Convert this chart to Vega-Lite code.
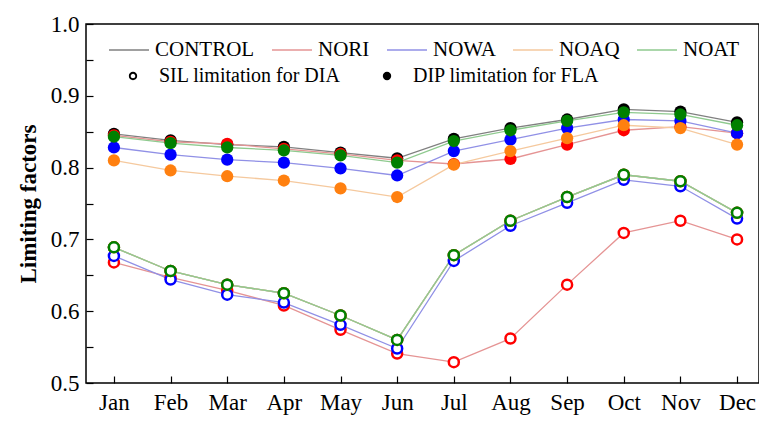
{
  "$schema": "https://vega.github.io/schema/vega-lite/v6.json",
  "autosize": "none",
  "width": 673,
  "height": 359,
  "padding": {"left": 86, "top": 24, "right": 0, "bottom": 38},
  "background": "white",
  "config": {
    "font": "Liberation Serif",
    "view": {"stroke": "black", "strokeWidth": 1.5},
    "axis": {"grid": false, "domain": false, "labelFont": "Liberation Serif", "labelFontSize": 23, "labelColor": "black", "tickColor": "black", "tickWidth": 1.2, "titleFont": "Liberation Serif"},
    "legend": {"labelFont": "Liberation Serif", "labelColor": "black"}
  },
  "data": {"values": [
    {"m":"Jan","s":"CONTROL","t":"DIP limitation for FLA","v":0.847},
    {"m":"Feb","s":"CONTROL","t":"DIP limitation for FLA","v":0.838},
    {"m":"Mar","s":"CONTROL","t":"DIP limitation for FLA","v":0.832},
    {"m":"Apr","s":"CONTROL","t":"DIP limitation for FLA","v":0.829},
    {"m":"May","s":"CONTROL","t":"DIP limitation for FLA","v":0.821},
    {"m":"Jun","s":"CONTROL","t":"DIP limitation for FLA","v":0.813},
    {"m":"Jul","s":"CONTROL","t":"DIP limitation for FLA","v":0.840},
    {"m":"Aug","s":"CONTROL","t":"DIP limitation for FLA","v":0.855},
    {"m":"Sep","s":"CONTROL","t":"DIP limitation for FLA","v":0.867},
    {"m":"Oct","s":"CONTROL","t":"DIP limitation for FLA","v":0.881},
    {"m":"Nov","s":"CONTROL","t":"DIP limitation for FLA","v":0.878},
    {"m":"Dec","s":"CONTROL","t":"DIP limitation for FLA","v":0.863},
    {"m":"Jan","s":"CONTROL","t":"SIL limitation for DIA","v":0.689},
    {"m":"Feb","s":"CONTROL","t":"SIL limitation for DIA","v":0.656},
    {"m":"Mar","s":"CONTROL","t":"SIL limitation for DIA","v":0.637},
    {"m":"Apr","s":"CONTROL","t":"SIL limitation for DIA","v":0.625},
    {"m":"May","s":"CONTROL","t":"SIL limitation for DIA","v":0.594},
    {"m":"Jun","s":"CONTROL","t":"SIL limitation for DIA","v":0.560},
    {"m":"Jul","s":"CONTROL","t":"SIL limitation for DIA","v":0.678},
    {"m":"Aug","s":"CONTROL","t":"SIL limitation for DIA","v":0.726},
    {"m":"Sep","s":"CONTROL","t":"SIL limitation for DIA","v":0.759},
    {"m":"Oct","s":"CONTROL","t":"SIL limitation for DIA","v":0.790},
    {"m":"Nov","s":"CONTROL","t":"SIL limitation for DIA","v":0.781},
    {"m":"Dec","s":"CONTROL","t":"SIL limitation for DIA","v":0.737},
    {"m":"Jan","s":"NORI","t":"DIP limitation for FLA","v":0.845},
    {"m":"Feb","s":"NORI","t":"DIP limitation for FLA","v":0.836},
    {"m":"Mar","s":"NORI","t":"DIP limitation for FLA","v":0.833},
    {"m":"Apr","s":"NORI","t":"DIP limitation for FLA","v":0.826},
    {"m":"May","s":"NORI","t":"DIP limitation for FLA","v":0.819},
    {"m":"Jun","s":"NORI","t":"DIP limitation for FLA","v":0.810},
    {"m":"Jul","s":"NORI","t":"DIP limitation for FLA","v":0.805},
    {"m":"Aug","s":"NORI","t":"DIP limitation for FLA","v":0.812},
    {"m":"Sep","s":"NORI","t":"DIP limitation for FLA","v":0.832},
    {"m":"Oct","s":"NORI","t":"DIP limitation for FLA","v":0.852},
    {"m":"Nov","s":"NORI","t":"DIP limitation for FLA","v":0.857},
    {"m":"Dec","s":"NORI","t":"DIP limitation for FLA","v":0.848},
    {"m":"Jan","s":"NORI","t":"SIL limitation for DIA","v":0.668},
    {"m":"Feb","s":"NORI","t":"SIL limitation for DIA","v":0.647},
    {"m":"Mar","s":"NORI","t":"SIL limitation for DIA","v":0.629},
    {"m":"Apr","s":"NORI","t":"SIL limitation for DIA","v":0.608},
    {"m":"May","s":"NORI","t":"SIL limitation for DIA","v":0.574},
    {"m":"Jun","s":"NORI","t":"SIL limitation for DIA","v":0.541},
    {"m":"Jul","s":"NORI","t":"SIL limitation for DIA","v":0.529},
    {"m":"Aug","s":"NORI","t":"SIL limitation for DIA","v":0.562},
    {"m":"Sep","s":"NORI","t":"SIL limitation for DIA","v":0.637},
    {"m":"Oct","s":"NORI","t":"SIL limitation for DIA","v":0.709},
    {"m":"Nov","s":"NORI","t":"SIL limitation for DIA","v":0.726},
    {"m":"Dec","s":"NORI","t":"SIL limitation for DIA","v":0.700},
    {"m":"Jan","s":"NOWA","t":"DIP limitation for FLA","v":0.828},
    {"m":"Feb","s":"NOWA","t":"DIP limitation for FLA","v":0.818},
    {"m":"Mar","s":"NOWA","t":"DIP limitation for FLA","v":0.811},
    {"m":"Apr","s":"NOWA","t":"DIP limitation for FLA","v":0.807},
    {"m":"May","s":"NOWA","t":"DIP limitation for FLA","v":0.799},
    {"m":"Jun","s":"NOWA","t":"DIP limitation for FLA","v":0.789},
    {"m":"Jul","s":"NOWA","t":"DIP limitation for FLA","v":0.823},
    {"m":"Aug","s":"NOWA","t":"DIP limitation for FLA","v":0.839},
    {"m":"Sep","s":"NOWA","t":"DIP limitation for FLA","v":0.855},
    {"m":"Oct","s":"NOWA","t":"DIP limitation for FLA","v":0.867},
    {"m":"Nov","s":"NOWA","t":"DIP limitation for FLA","v":0.865},
    {"m":"Dec","s":"NOWA","t":"DIP limitation for FLA","v":0.848},
    {"m":"Jan","s":"NOWA","t":"SIL limitation for DIA","v":0.677},
    {"m":"Feb","s":"NOWA","t":"SIL limitation for DIA","v":0.644},
    {"m":"Mar","s":"NOWA","t":"SIL limitation for DIA","v":0.623},
    {"m":"Apr","s":"NOWA","t":"SIL limitation for DIA","v":0.612},
    {"m":"May","s":"NOWA","t":"SIL limitation for DIA","v":0.581},
    {"m":"Jun","s":"NOWA","t":"SIL limitation for DIA","v":0.548},
    {"m":"Jul","s":"NOWA","t":"SIL limitation for DIA","v":0.670},
    {"m":"Aug","s":"NOWA","t":"SIL limitation for DIA","v":0.719},
    {"m":"Sep","s":"NOWA","t":"SIL limitation for DIA","v":0.751},
    {"m":"Oct","s":"NOWA","t":"SIL limitation for DIA","v":0.783},
    {"m":"Nov","s":"NOWA","t":"SIL limitation for DIA","v":0.774},
    {"m":"Dec","s":"NOWA","t":"SIL limitation for DIA","v":0.729},
    {"m":"Jan","s":"NOAQ","t":"DIP limitation for FLA","v":0.810},
    {"m":"Feb","s":"NOAQ","t":"DIP limitation for FLA","v":0.796},
    {"m":"Mar","s":"NOAQ","t":"DIP limitation for FLA","v":0.788},
    {"m":"Apr","s":"NOAQ","t":"DIP limitation for FLA","v":0.782},
    {"m":"May","s":"NOAQ","t":"DIP limitation for FLA","v":0.771},
    {"m":"Jun","s":"NOAQ","t":"DIP limitation for FLA","v":0.759},
    {"m":"Jul","s":"NOAQ","t":"DIP limitation for FLA","v":0.804},
    {"m":"Aug","s":"NOAQ","t":"DIP limitation for FLA","v":0.823},
    {"m":"Sep","s":"NOAQ","t":"DIP limitation for FLA","v":0.841},
    {"m":"Oct","s":"NOAQ","t":"DIP limitation for FLA","v":0.859},
    {"m":"Nov","s":"NOAQ","t":"DIP limitation for FLA","v":0.855},
    {"m":"Dec","s":"NOAQ","t":"DIP limitation for FLA","v":0.832},
    {"m":"Jan","s":"NOAQ","t":"SIL limitation for DIA","v":0.689},
    {"m":"Feb","s":"NOAQ","t":"SIL limitation for DIA","v":0.656},
    {"m":"Mar","s":"NOAQ","t":"SIL limitation for DIA","v":0.637},
    {"m":"Apr","s":"NOAQ","t":"SIL limitation for DIA","v":0.625},
    {"m":"May","s":"NOAQ","t":"SIL limitation for DIA","v":0.594},
    {"m":"Jun","s":"NOAQ","t":"SIL limitation for DIA","v":0.560},
    {"m":"Jul","s":"NOAQ","t":"SIL limitation for DIA","v":0.678},
    {"m":"Aug","s":"NOAQ","t":"SIL limitation for DIA","v":0.726},
    {"m":"Sep","s":"NOAQ","t":"SIL limitation for DIA","v":0.759},
    {"m":"Oct","s":"NOAQ","t":"SIL limitation for DIA","v":0.790},
    {"m":"Nov","s":"NOAQ","t":"SIL limitation for DIA","v":0.781},
    {"m":"Dec","s":"NOAQ","t":"SIL limitation for DIA","v":0.737},
    {"m":"Jan","s":"NOAT","t":"DIP limitation for FLA","v":0.843},
    {"m":"Feb","s":"NOAT","t":"DIP limitation for FLA","v":0.834},
    {"m":"Mar","s":"NOAT","t":"DIP limitation for FLA","v":0.828},
    {"m":"Apr","s":"NOAT","t":"DIP limitation for FLA","v":0.824},
    {"m":"May","s":"NOAT","t":"DIP limitation for FLA","v":0.817},
    {"m":"Jun","s":"NOAT","t":"DIP limitation for FLA","v":0.807},
    {"m":"Jul","s":"NOAT","t":"DIP limitation for FLA","v":0.837},
    {"m":"Aug","s":"NOAT","t":"DIP limitation for FLA","v":0.852},
    {"m":"Sep","s":"NOAT","t":"DIP limitation for FLA","v":0.865},
    {"m":"Oct","s":"NOAT","t":"DIP limitation for FLA","v":0.877},
    {"m":"Nov","s":"NOAT","t":"DIP limitation for FLA","v":0.874},
    {"m":"Dec","s":"NOAT","t":"DIP limitation for FLA","v":0.859},
    {"m":"Jan","s":"NOAT","t":"SIL limitation for DIA","v":0.689},
    {"m":"Feb","s":"NOAT","t":"SIL limitation for DIA","v":0.656},
    {"m":"Mar","s":"NOAT","t":"SIL limitation for DIA","v":0.637},
    {"m":"Apr","s":"NOAT","t":"SIL limitation for DIA","v":0.625},
    {"m":"May","s":"NOAT","t":"SIL limitation for DIA","v":0.594},
    {"m":"Jun","s":"NOAT","t":"SIL limitation for DIA","v":0.560},
    {"m":"Jul","s":"NOAT","t":"SIL limitation for DIA","v":0.678},
    {"m":"Aug","s":"NOAT","t":"SIL limitation for DIA","v":0.726},
    {"m":"Sep","s":"NOAT","t":"SIL limitation for DIA","v":0.759},
    {"m":"Oct","s":"NOAT","t":"SIL limitation for DIA","v":0.790},
    {"m":"Nov","s":"NOAT","t":"SIL limitation for DIA","v":0.781},
    {"m":"Dec","s":"NOAT","t":"SIL limitation for DIA","v":0.737}
  ]},
  "encoding": {
    "x": {"field": "m", "type": "ordinal", "sort": null,
      "scale": {"type": "point", "padding": 0.44, "align": 0.56},
      "axis": {"title": null, "labelAngle": 0, "tickSize": -7, "labelPadding": 15}},
    "y": {"field": "v", "type": "quantitative",
      "scale": {"domain": [0.5, 1.0], "nice": false, "zero": false},
      "axis": {"title": "Limiting factors", "titleFontSize": 23, "titleFontWeight": "bold", "titlePadding": 10,
        "values": [0.5,0.55,0.6,0.65,0.7,0.75,0.8,0.85,0.9,0.95,1.0],
        "labelExpr": "round(datum.value*100) % 10 === 0 ? format(datum.value, '.1f') : ''",
        "tickSize": -7, "labelPadding": 14}}
  },
  "layer": [
    {
      "mark": {"type": "line", "strokeWidth": 1.3},
      "encoding": {
        "color": {"field": "s", "type": "nominal",
          "scale": {"domain": ["CONTROL","NORI","NOWA","NOAQ","NOAT"], "range": ["#808080","#e59494","#9090e6","#f5c99e","#8fca8f"]},
          "legend": {"title": null, "orient": "none", "legendX": 22, "legendY": 5, "direction": "horizontal", "columns": 5,
            "symbolType": "stroke", "symbolSize": 1600, "symbolStrokeWidth": 1.5, "labelFontSize": 21, "labelOffset": 5, "columnPadding": 14}},
        "detail": {"field": "t"}
      }
    },
    {
      "transform": [{"filter": "datum.t === 'DIP limitation for FLA'"}],
      "mark": {"type": "point", "filled": true, "size": 150, "opacity": 1},
      "encoding": {
        "fill": {"field": "s", "type": "nominal",
          "scale": {"domain": ["CONTROL","NORI","NOWA","NOAQ","NOAT"], "range": ["#000000","#ff0000","#0000ff","#ff8010","#008000"]},
          "legend": null},
        "shape": {"field": "t", "type": "nominal",
          "scale": {"domain": ["SIL limitation for DIA","DIP limitation for FLA"],
            "range": ["M-1,0A1,1,0,1,0,1,0A1,1,0,1,0,-1,0ZM-0.55,0A0.55,0.55,0,1,1,0.55,0A0.55,0.55,0,1,1,-0.55,0Z", "circle"]},
          "legend": {"title": null, "orient": "none", "legendX": 37, "legendY": 42, "direction": "horizontal", "columns": 2,
            "symbolSize": 70, "symbolStrokeColor": "black", "symbolStrokeWidth": 0, "symbolFillColor": "black", "symbolOpacity": 1,
            "labelFontSize": 20, "labelOffset": 16, "columnPadding": 36, "labelLimit": 400}}
      }
    },
    {
      "transform": [{"filter": "datum.t === 'SIL limitation for DIA'"}],
      "mark": {"type": "point", "filled": true, "fill": "white", "size": 100, "strokeWidth": 2.5, "opacity": 1},
      "encoding": {
        "stroke": {"field": "s", "type": "nominal",
          "scale": {"domain": ["CONTROL","NORI","NOWA","NOAQ","NOAT"], "range": ["#000000","#ff0000","#0000ff","#ff8010","#008000"]},
          "legend": null}
      }
    }
  ]
}
